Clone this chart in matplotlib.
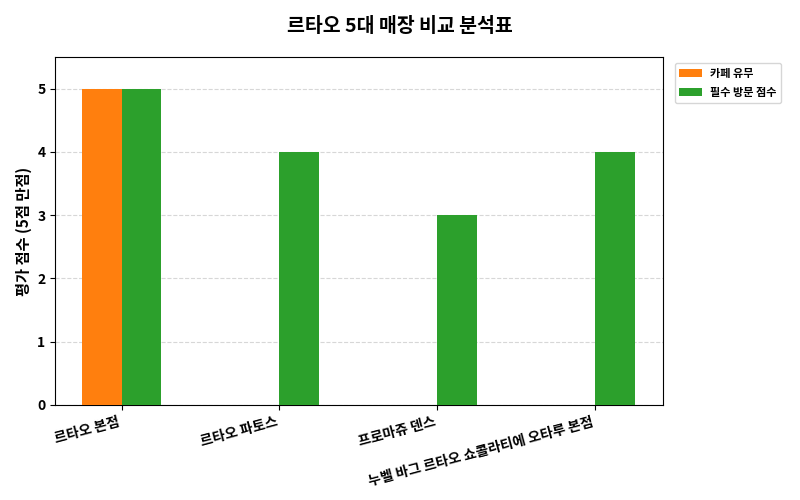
import matplotlib
matplotlib.use("Agg")
import matplotlib.pyplot as plt
import numpy as np

plt.rcParams['font.family'] = ['Noto Sans CJK KR', 'DejaVu Sans']

stores = ["르타오 본점", "르타오 파토스", "프로마쥬 덴스", "누벨 바그 르타오 쇼콜라티에 오타루 본점"]
cafe = [5, 0, 0, 0]
visit = [5, 4, 3, 4]

fig = plt.figure(figsize=(8, 5), dpi=100)
ax = fig.add_axes([0.069, 0.19, 0.76, 0.696])
x = np.arange(len(stores))
w = 0.25
ax.bar(x - w/2, cafe, w, color="#ff7f0e", label="카페 유무", zorder=3)
ax.bar(x + w/2, visit, w, color="#2ca02c", label="필수 방문 점수", zorder=3)
ax.set_xlim(-0.42, 3.43)
ax.set_ylim(0, 5.5)
ax.set_xticks(x)
ax.set_xticklabels(stores, rotation=15, ha="right", fontweight="bold", fontsize=10)
ax.set_yticks(range(6))
for t in ax.get_yticklabels():
    t.set_fontweight("bold"); t.set_fontsize(10)
ax.set_ylabel("평가 점수 (5점 만점)", fontweight="bold", fontsize=11)
ax.grid(axis="y", linestyle="--", alpha=0.5, zorder=0)
fig.suptitle("르타오 5대 매장 비교 분석표", fontweight="bold", fontsize=14, y=0.965)
leg = ax.legend(loc="upper left", bbox_to_anchor=(1.01, 1.0), prop={"weight": "bold", "size": 8})
fig.savefig("out.png", dpi=100)
